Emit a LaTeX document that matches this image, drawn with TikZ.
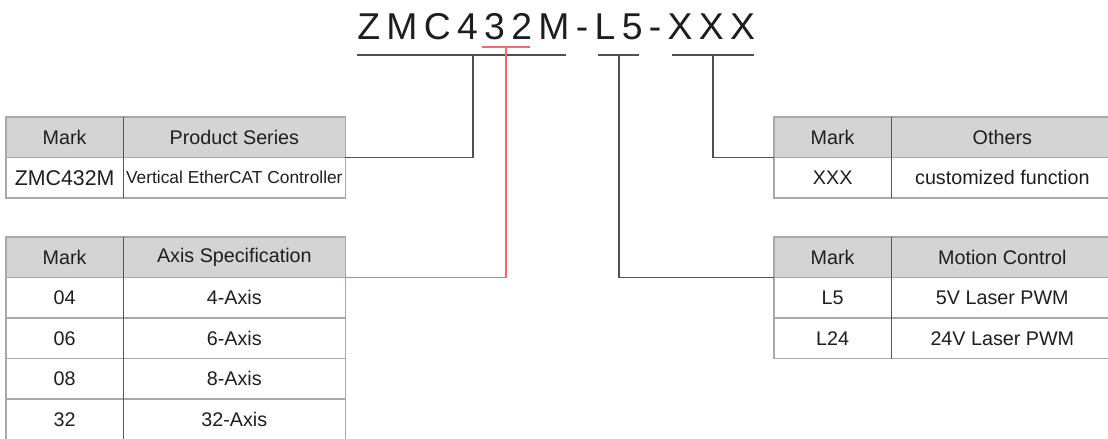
\documentclass[tikz,border=0pt]{standalone}
\usepackage{fontspec}
\setmainfont{Liberation Sans}
\usetikzlibrary{positioning}

\definecolor{headgray}{HTML}{D4D4D4}
\definecolor{rulegray}{HTML}{A8A8A8}
\definecolor{divgray}{HTML}{555555}
\definecolor{leadgray}{HTML}{505050}
\definecolor{leadred}{HTML}{F26A6A}
\definecolor{inkgray}{HTML}{1E1E1E}

\begin{document}
\begin{tikzpicture}[x=0.75pt,y=-0.75pt,
    cell/.style={draw=rulegray,line width=0.8pt,inner sep=0pt,outer sep=0pt,
      minimum height=30.375pt,text=inkgray,font=\fontsize{14.8}{17}\selectfont},
    markcell/.style={cell,minimum width=88pt},
    desccell/.style={cell,minimum width=166.5pt},
    head/.style={fill=headgray},
    divider/.style={draw=divgray,line width=0.8pt},
    uline/.style={draw=leadgray,line width=0.9pt},
    lead/.style={draw=leadgray,line width=0.9pt},
    redlead/.style={draw=leadred,line width=0.9pt},
    codetext/.style={inner sep=0pt,anchor=base west,text=inkgray,
      font=\fontsize{28}{30}\selectfont\addfontfeature{LetterSpace=17}}]
  \clip (0,0) rectangle (1108,439);

  % type code
  \node[codetext] (code) at (357,40) {ZMC432M-L5-XXX};
  \coordinate (zmc-a) at (357,55);
  \coordinate (zmc-b) at (566,55);
  \coordinate (zmc-t) at (473,55);
  \coordinate (ax-a)  at (482,47);
  \coordinate (ax-b)  at (530,47);
  \coordinate (ax-t)  at (506,47);
  \coordinate (l5-a)  at (598,55);
  \coordinate (l5-b)  at (639,55);
  \coordinate (l5-t)  at (619,55);
  \coordinate (xx-a)  at (672,55);
  \coordinate (xx-b)  at (754,55);
  \coordinate (xx-t)  at (713,55);

  % product series
  \node[markcell,head,anchor=north west] (ser-m0) at (6,117) {Mark};
  \node[desccell,head,right=0pt of ser-m0] (ser-d0) {Product Series};
  \node[markcell,below=0pt of ser-m0,font=\fontsize{16}{18}\selectfont] (ser-m1) {ZMC432M};
  \node[desccell,below=0pt of ser-d0,font=\fontsize{13}{15}\selectfont] (ser-d1) {Vertical EtherCAT Controller};
  \draw[divider] (ser-m0.north east) -- (ser-m1.south east);

  % axis specification
  \node[markcell,head,anchor=north west] (axis-m0) at (6,237) {Mark};
  \node[desccell,head,right=0pt of axis-m0] (axis-d0) {Axis Specification};
  \node[markcell,below=0pt of axis-m0] (axis-m1) {04};
  \node[desccell,below=0pt of axis-d0] (axis-d1) {4-Axis};
  \node[markcell,below=0pt of axis-m1] (axis-m2) {06};
  \node[desccell,below=0pt of axis-d1] (axis-d2) {6-Axis};
  \node[markcell,below=0pt of axis-m2] (axis-m3) {08};
  \node[desccell,below=0pt of axis-d2] (axis-d3) {8-Axis};
  \node[markcell,below=0pt of axis-m3] (axis-m4) {32};
  \node[desccell,below=0pt of axis-d3] (axis-d4) {32-Axis};
  \draw[divider] (axis-m0.north east) -- (axis-m4.south east);

  % others
  \node[markcell,head,anchor=north west] (oth-m0) at (774,117) {Mark};
  \node[desccell,head,right=0pt of oth-m0] (oth-d0) {Others};
  \node[markcell,below=0pt of oth-m0] (oth-m1) {XXX};
  \node[desccell,below=0pt of oth-d0] (oth-d1) {customized function};
  \draw[divider] (oth-m0.north east) -- (oth-m1.south east);

  % motion control
  \node[markcell,head,anchor=north west] (mot-m0) at (774,237) {Mark};
  \node[desccell,head,right=0pt of mot-m0] (mot-d0) {Motion Control};
  \node[markcell,below=0pt of mot-m0] (mot-m1) {L5};
  \node[desccell,below=0pt of mot-d0] (mot-d1) {5V Laser PWM};
  \node[markcell,below=0pt of mot-m1] (mot-m2) {L24};
  \node[desccell,below=0pt of mot-d1] (mot-d2) {24V Laser PWM};
  \draw[divider] (mot-m0.north east) -- (mot-m2.south east);

  % underlines and leads
  \draw[uline] (zmc-a) -- (zmc-b);
  \draw[uline] (l5-a) -- (l5-b);
  \draw[uline] (xx-a) -- (xx-b);
  \draw[redlead] (ax-a) -- (ax-b);
  \draw[lead] (ser-d0.south east) -| (zmc-t);
  \draw[redlead] (axis-d0.south east) -| (ax-t);
  \draw[lead] (mot-m0.south west) -| (l5-t);
  \draw[lead] (oth-m0.south west) -| (xx-t);
\end{tikzpicture}
\end{document}
